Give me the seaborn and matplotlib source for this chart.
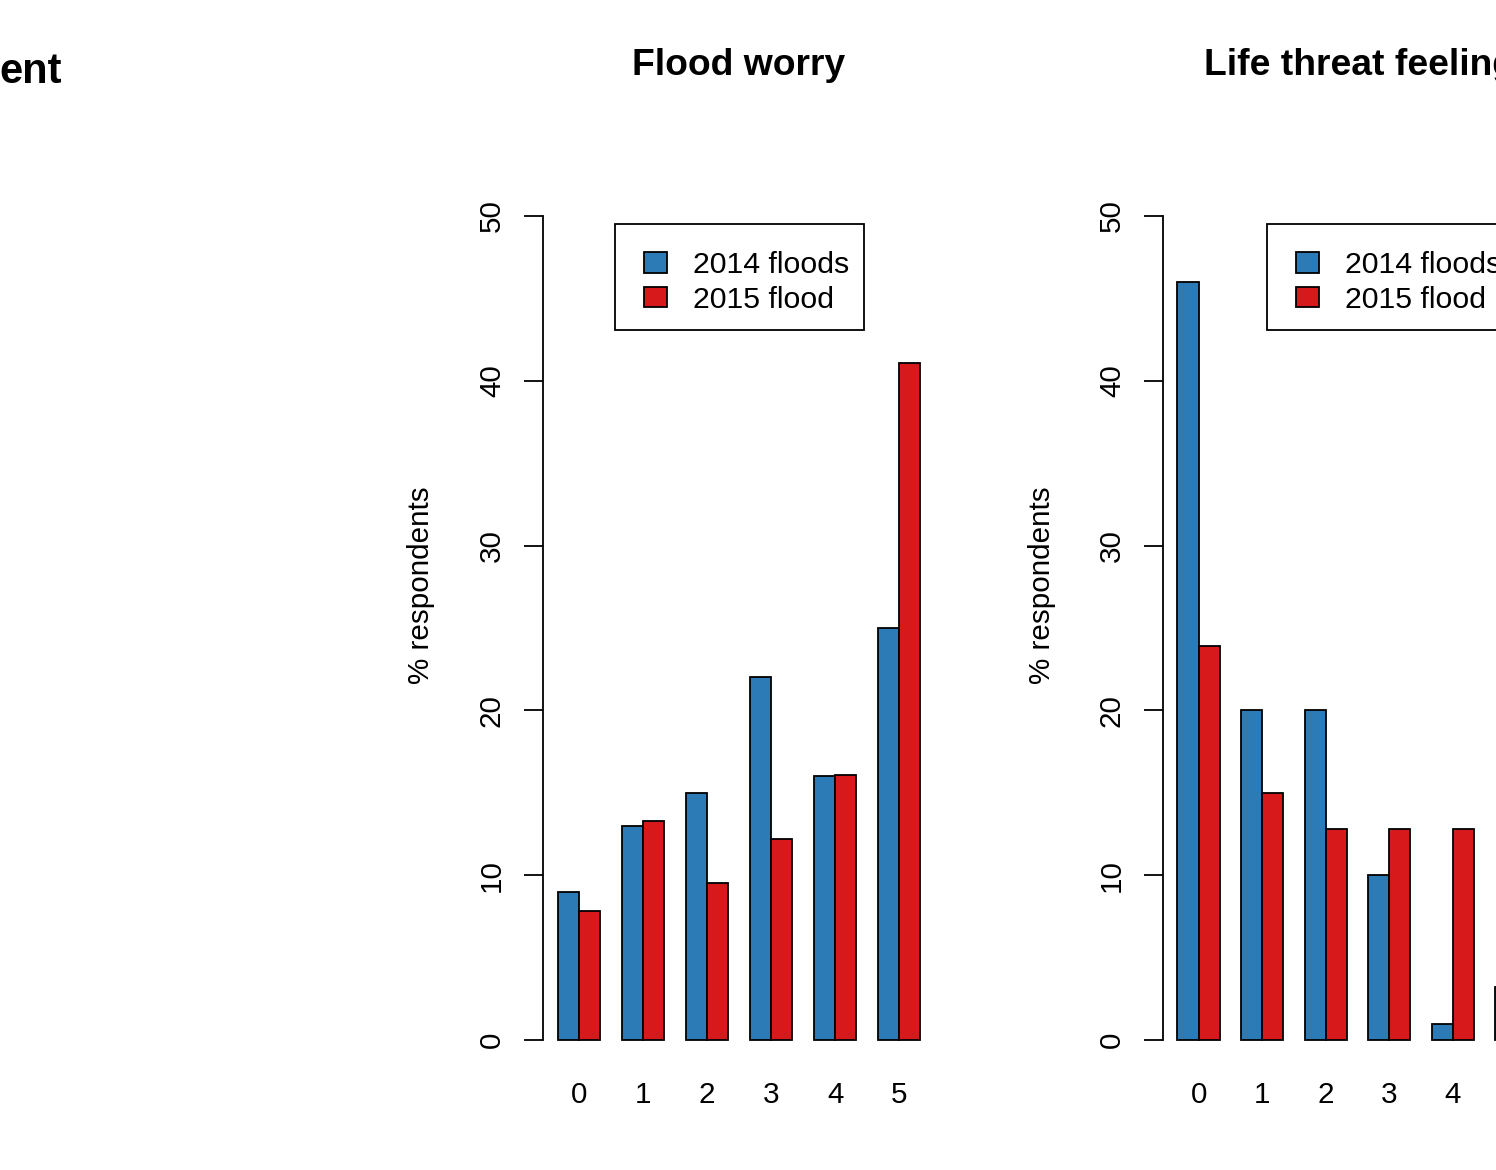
import matplotlib
matplotlib.use("Agg")
import matplotlib.pyplot as plt
from matplotlib.patches import Rectangle
import seaborn as sns
import pandas as pd

# ---- data ----
categories = ["0", "1", "2", "3", "4", "5"]
series_names = ["2014 floods", "2015 flood"]
worry_2014 = [9, 13, 15, 22, 16, 25]
worry_2015 = [7.8, 13.3, 9.5, 12.2, 16.1, 41.1]
threat_2014 = [46, 20, 20, 10, 1, 3.2]
threat_2015 = [23.9, 15, 12.8, 12.8, 12.8, 22.7]
yticks = [0, 10, 20, 30, 40, 50]
titles = ["Flood worry", "Life threat feeling"]
left_title = "ent"
ylabel = "% respondents"
colors = ["#2C7BB6", "#D7191C"]

sns.set_style("white")
plt.rcParams["font.family"] = ["Liberation Sans", "DejaVu Sans"]
plt.rcParams["text.color"] = "black"
plt.rcParams["axes.labelcolor"] = "black"
plt.rcParams["xtick.color"] = "black"
plt.rcParams["ytick.color"] = "black"

W, H = 1496, 1170
fig = plt.figure(figsize=(W / 100, H / 100), dpi=100)
fig.patch.set_facecolor("white")


def px_axes(left, right, top, bottom):
    return fig.add_axes([left / W, 1 - bottom / H, (right - left) / W, (bottom - top) / H])


def make_df(a, b):
    return pd.DataFrame({
        "score": categories * 2,
        "pct": list(a) + list(b),
        "event": [series_names[0]] * len(categories) + [series_names[1]] * len(categories),
    })


panels = [(titles[0], worry_2014, worry_2015, 543, 392, 615),
          (titles[1], threat_2014, threat_2015, 1163, 389, 1267)]

FS = 21.3
for title, a, b, axl, axw, legl in panels:
    ax = px_axes(axl, axl + axw, 183, 1073)
    df = make_df(a, b)
    sns.barplot(data=df, x="score", y="pct", hue="event", order=categories,
                hue_order=series_names, palette=colors, width=2 / 3,
                edgecolor="black", linewidth=1.3, saturation=1, errorbar=None, ax=ax)
    ax.set_xlim(-0.56, 5.56)
    ax.set_ylim(-2, 52)
    ax.set_facecolor("none")
    for s in ["top", "right", "bottom"]:
        ax.spines[s].set_visible(False)
    ax.spines["left"].set_bounds(0, 50)
    ax.spines["left"].set_color("black")
    ax.spines["left"].set_linewidth(1.3)
    ax.set_yticks(yticks)
    ax.set_yticklabels([str(v) for v in yticks])
    ax.tick_params(axis="y", direction="out", length=13.7, width=1.3, color="black",
                   labelsize=FS, pad=13, left=True)
    for lab in ax.get_yticklabels():
        lab.set_rotation(90)
        lab.set_va("center")
        lab.set_ha("right")
    ax.tick_params(axis="x", length=0, labelsize=FS, pad=6)
    ax.set_xlabel("")
    ax.set_ylabel(ylabel, fontsize=FS)
    ax.yaxis.set_label_coords(-0.275, 0.548)
    fig.text((axl + 196) / W, 1 - 75 / H, title, ha="center", va="baseline",
             fontsize=26.8, fontweight="bold")

    # legend frame drawn explicitly (R-style box), beneath the axes layer
    frame = Rectangle((legl / W, 1 - 330 / H), 249 / W, 106 / H, transform=fig.transFigure,
                      facecolor="white", edgecolor="black", linewidth=1.3, clip_on=False,
                      zorder=-1)
    fig.add_artist(frame)

    handles, labels = ax.get_legend_handles_labels()
    if ax.get_legend() is not None:
        ax.get_legend().remove()
    leg = ax.legend(handles, labels, loc="upper left",
                    bbox_to_anchor=((legl + 29) / W, 1 - 251 / H), bbox_transform=fig.transFigure,
                    borderaxespad=0, fontsize=21.8, frameon=False,
                    handlelength=0.76, handleheight=0.66,
                    handletextpad=0.87, borderpad=0, labelspacing=0.22)

fig.text(62 / W, 1 - 83 / H, left_title, ha="right", va="baseline",
         fontsize=30, fontweight="bold")

fig.savefig("out.png", dpi=100)
